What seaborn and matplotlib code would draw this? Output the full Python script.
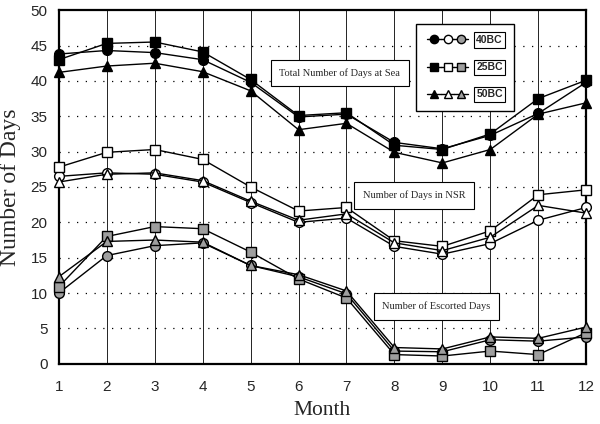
import numpy as np
import pandas as pd
import seaborn as sns
import matplotlib
matplotlib.use('Agg')
import matplotlib.pyplot as plt
from matplotlib.lines import Line2D
from matplotlib.legend_handler import HandlerTuple

# values
months = list(range(1, 13))

# total number of days at sea (filled markers)
sea_40bc = [43.8, 44.3, 44.0, 43.0, 39.8, 34.9, 35.3, 31.3, 30.4, 32.3, 35.4, 39.8]
sea_25bc = [43.0, 45.3, 45.5, 44.1, 40.2, 35.1, 35.5, 30.9, 30.3, 32.5, 37.5, 40.1]
sea_50bc = [41.2, 42.1, 42.5, 41.3, 38.6, 33.1, 34.0, 29.9, 28.4, 30.3, 35.3, 36.9]

# number of days in NSR (open markers)
nsr_40bc = [26.5, 27.0, 26.8, 25.7, 22.8, 20.0, 20.6, 16.6, 15.5, 17.0, 20.3, 22.1]
nsr_25bc = [27.8, 29.9, 30.3, 28.9, 25.0, 21.6, 22.1, 17.4, 16.6, 18.8, 23.9, 24.6]
nsr_50bc = [25.7, 26.8, 27.0, 25.9, 23.0, 20.3, 21.2, 17.1, 16.0, 17.9, 22.4, 21.3]

# number of escorted days (hatched markers)
esc_40bc = [10.0, 15.3, 16.7, 17.1, 13.9, 12.3, 9.9, 1.8, 1.7, 3.4, 3.2, 3.8]
esc_25bc = [10.9, 18.0, 19.4, 19.1, 15.8, 12.0, 9.3, 1.3, 1.1, 1.8, 1.3, 4.4]
esc_50bc = [12.3, 17.3, 17.5, 17.2, 13.9, 12.6, 10.3, 2.3, 2.1, 3.8, 3.6, 5.2]

years = ['40BC', '25BC', '50BC']
shapes = {'40BC': 'o', '25BC': 's', '50BC': '^'}
faces = {'sea': 'black', 'nsr': 'white', 'esc': '0.62'}

series = {
    ('sea', '40BC'): sea_40bc, ('sea', '25BC'): sea_25bc, ('sea', '50BC'): sea_50bc,
    ('nsr', '40BC'): nsr_40bc, ('nsr', '25BC'): nsr_25bc, ('nsr', '50BC'): nsr_50bc,
    ('esc', '40BC'): esc_40bc, ('esc', '25BC'): esc_25bc, ('esc', '50BC'): esc_50bc,
}

sns.set_style('white')
plt.rcParams['font.family'] = ['Liberation Sans', 'DejaVu Sans']

fig = plt.figure(figsize=(6, 4.24), dpi=100)
ax = fig.add_axes([0.098, 0.142, 0.879, 0.834])

for (kind, yr), vals in series.items():
    df = pd.DataFrame({'Month': months, 'Days': vals})
    sns.lineplot(data=df, x='Month', y='Days', ax=ax, color='black', lw=1,
                 marker=shapes[yr], markersize=7 if yr != '50BC' else 7.5,
                 markerfacecolor=faces[kind], markeredgecolor='black',
                 markeredgewidth=1, zorder=3, clip_on=False)

ax.set_xlim(1, 12)
ax.set_ylim(0, 50)
ax.set_xticks(months)
ax.set_yticks(range(0, 51, 5))

# grid: thin solid verticals at each month, dotted horizontals
for m in months:
    ax.axvline(m, color='black', lw=0.6, zorder=1)
for v in range(5, 50, 5):
    ax.axhline(v, color='black', lw=0.9, ls=(0, (1, 6)), zorder=1)

for s in ax.spines.values():
    s.set_linewidth(1.6)
    s.set_color('black')

ax.tick_params(axis='both', length=0, labelsize=11)
ax.tick_params(axis='x', pad=12)
ax.tick_params(axis='y', pad=8)

ax.set_xlabel('Month', fontsize=15.5, family='Liberation Serif', labelpad=5)
ax.set_ylabel('Number of Days', fontsize=17, family='Liberation Serif', labelpad=7)

box = dict(boxstyle='square,pad=0.8', fc='white', ec='black', lw=0.8)
ax.text(6.86, 41.1, 'Total Number of Days at Sea', ha='center', va='center',
        fontsize=7.5, family='Liberation Serif', bbox=box, zorder=4)
ax.text(8.41, 23.8, 'Number of Days in NSR', ha='center', va='center',
        fontsize=7.5, family='Liberation Serif', bbox=box, zorder=4)
ax.text(8.87, 8.1, 'Number of Escorted Days', ha='center', va='center',
        fontsize=7.5, family='Liberation Serif', bbox=box, zorder=4)

# legend: filled / open / hatched marker per year
handles = []
for yr in years:
    trio = tuple(Line2D([], [], color='black', lw=1, marker=shapes[yr], markersize=6,
                        markerfacecolor=faces[k], markeredgecolor='black')
                 for k in ['sea', 'nsr', 'esc'])
    handles.append(trio)

leg = ax.legend(handles, years, handler_map={tuple: HandlerTuple(ndivide=None, pad=0)},
                loc='upper left', bbox_to_anchor=(0.677, 0.962), fontsize=7.5,
                handlelength=3.9, labelspacing=1.65, borderpad=1.1, handletextpad=0.8,
                borderaxespad=0, frameon=True, fancybox=False, edgecolor='black',
                framealpha=1)
leg.get_frame().set_linewidth(1)
for t in leg.get_texts():
    t.set_fontweight('bold')
    t.set_bbox(dict(boxstyle='square,pad=0.25', fc='white', ec='black', lw=0.8))

plt.savefig('out.png', dpi=100)
